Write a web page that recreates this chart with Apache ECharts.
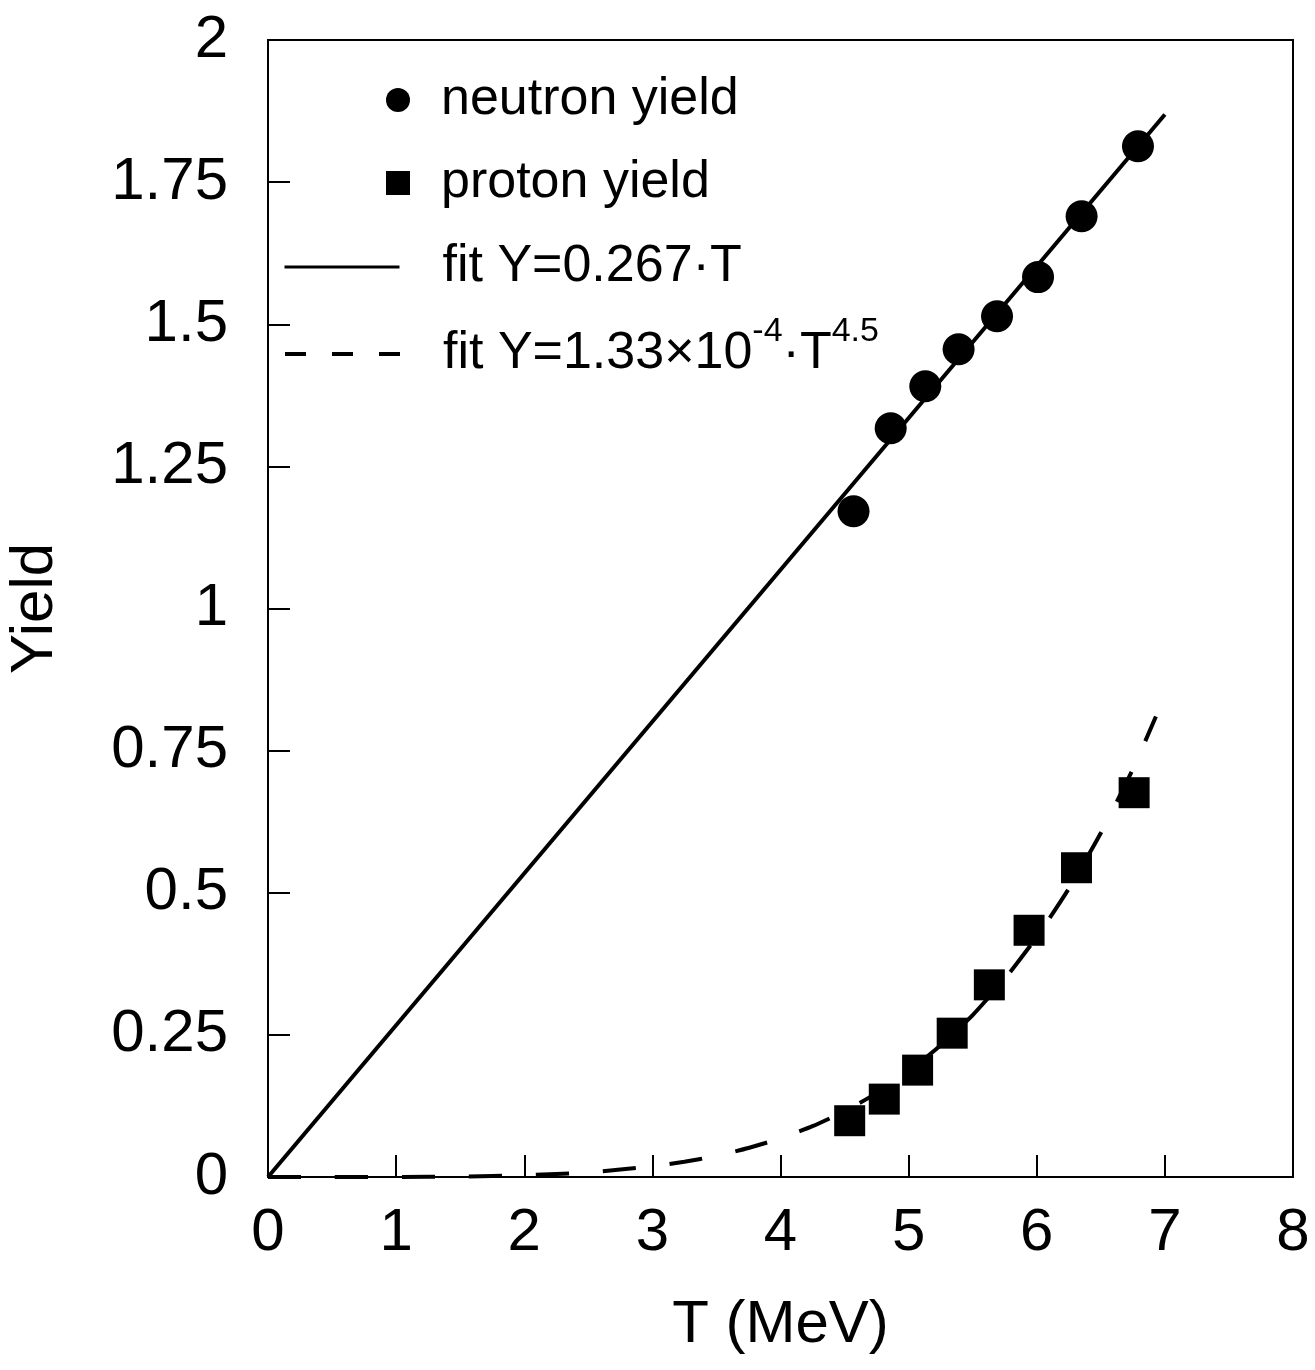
<!DOCTYPE html>
<html>
<head>
<meta charset="utf-8">
<title>Yield vs T</title>
<script src="https://cdn.jsdelivr.net/npm/echarts@6/dist/echarts.min.js"></script>
<style>
  html, body { margin: 0; padding: 0; background: #fff; }
  #chart { width: 1315px; height: 1370px; }
</style>
</head>
<body>
<div id="chart"></div>
<script>
// values
const neutronT = [4.57, 4.86, 5.13, 5.39, 5.69, 6.01, 6.35, 6.79]
const neutronY = [1.171, 1.317, 1.391, 1.456, 1.514, 1.583, 1.690, 1.813]
const protonT = [4.54, 4.81, 5.07, 5.34, 5.63, 5.94, 6.31, 6.76]
const protonY = [0.099, 0.137, 0.188, 0.253, 0.338, 0.434, 0.544, 0.676]
// fit curves, sampled along the drawn lines
const linFitT = [0, 7]
const linFitY = [0, 1.869]
const powFitT = [0, 0.5, 1, 1.5, 2, 2.5, 3, 3.25, 3.5, 3.75, 4, 4.25, 4.5, 4.75, 5, 5.25, 5.5, 5.75, 6, 6.25, 6.5, 6.75, 6.93]
const powFitY = [0, 0, 0.0001, 0.0008, 0.003, 0.0082, 0.0187, 0.0267, 0.0373, 0.051, 0.0681, 0.0894, 0.1157, 0.1476, 0.1859, 0.2316, 0.2849, 0.3485, 0.4222, 0.5071, 0.605, 0.7173, 0.81]
const xTicks = { min: 0, max: 8, step: 1 }
const yTicks = { min: 0, max: 2, step: 0.25 }

const FONT = '"Liberation Sans", Arial, Helvetica, sans-serif'
const pairs = (xs, ys) => xs.map((x, i) => [x, ys[i]])

const chart = echarts.init(document.getElementById('chart'))

const legendText = {
  color: '#000',
  fontFamily: FONT,
  fontSize: 52,
  lineHeight: 52,
  padding: [0, 0, 0, 38],
}

const option = {
  backgroundColor: '#fff',
  animation: false,
  grid: {
    left: 268,
    right: 22,
    top: 40,
    bottom: 193,
    show: true,
    borderColor: '#000',
    borderWidth: 2,
    containLabel: false,
    outerBoundsMode: 'none',
  },
  legend: [
    {
      data: [
        { name: 'neutron yield', icon: 'circle' },
        { name: 'proton yield', icon: 'rect' },
      ],
      orient: 'vertical',
      left: 386,
      top: 74,
      padding: 0,
      itemWidth: 24,
      itemHeight: 24,
      itemGap: 31,
      selectedMode: false,
      itemStyle: { color: '#000', opacity: 1 },
      textStyle: Object.assign({}, legendText, { padding: [0, 0, 0, 26] }),
    },
    {
      data: ['fit Y=0.267·T'],
      left: 283,
      top: 241,
      padding: 0,
      itemWidth: 115,
      itemHeight: 14,
      selectedMode: false,
      itemStyle: { opacity: 0 },
      lineStyle: { width: 3, color: '#000' },
      textStyle: legendText,
    },
    {
      data: ['fitPow'],
      left: 283,
      top: 315,
      padding: 0,
      itemWidth: 115,
      itemHeight: 14,
      selectedMode: false,
      itemStyle: { opacity: 0 },
      lineStyle: { width: 4, color: '#000', type: [21, 26] },
      formatter: () => '{m|fit Y=1.33×10}{s|-4}{m|·T}{s|4.5}',
      textStyle: Object.assign({}, legendText, {
        rich: {
          m: { fontFamily: FONT, fontSize: 52, lineHeight: 52, color: '#000', verticalAlign: 'middle' },
          s: { fontFamily: FONT, fontSize: 34, lineHeight: 34, color: '#000', verticalAlign: 'middle', padding: [0, 0, 44, 0] },
        },
      }),
    },
  ],
  xAxis: {
    type: 'value',
    min: xTicks.min,
    max: xTicks.max,
    interval: xTicks.step,
    name: 'T (MeV)',
    nameLocation: 'middle',
    nameGap: 118,
    nameTextStyle: { color: '#000', fontFamily: FONT, fontSize: 60 },
    axisLine: { show: true, lineStyle: { color: '#000', width: 2 } },
    axisTick: { show: true, inside: true, length: 22, lineStyle: { color: '#000', width: 2 } },
    axisLabel: { color: '#000', fontFamily: FONT, fontSize: 60, margin: 26 },
    splitLine: { show: false },
  },
  yAxis: {
    type: 'value',
    min: yTicks.min,
    max: yTicks.max,
    interval: yTicks.step,
    name: 'Yield',
    nameLocation: 'middle',
    nameGap: 203,
    nameTextStyle: { color: '#000', fontFamily: FONT, fontSize: 60 },
    axisLine: { show: true, lineStyle: { color: '#000', width: 2 } },
    axisTick: { show: true, inside: true, length: 22, lineStyle: { color: '#000', width: 2 } },
    axisLabel: { color: '#000', fontFamily: FONT, fontSize: 60, margin: 40 },
    splitLine: { show: false },
  },
  series: [
    {
      name: 'fit Y=0.267·T',
      type: 'line',
      data: pairs(linFitT, linFitY),
      symbol: 'none',
      showSymbol: false,
      itemStyle: { color: '#000' },
      lineStyle: { color: '#000', width: 4 },
      z: 2,
    },
    {
      name: 'fitPow',
      type: 'line',
      data: pairs(powFitT, powFitY),
      symbol: 'none',
      showSymbol: false,
      smooth: 0.2,
      itemStyle: { color: '#000' },
      lineStyle: { color: '#000', width: 4, type: [33, 34] },
      z: 2,
    },
    {
      name: 'neutron yield',
      type: 'scatter',
      data: pairs(neutronT, neutronY),
      symbol: 'circle',
      symbolSize: 32,
      itemStyle: { color: '#000', opacity: 1 },
      z: 3,
    },
    {
      name: 'proton yield',
      type: 'scatter',
      data: pairs(protonT, protonY),
      symbol: 'rect',
      symbolSize: 31,
      itemStyle: { color: '#000', opacity: 1 },
      z: 3,
    },
  ],
}

chart.setOption(option)
</script>
</body>
</html>
